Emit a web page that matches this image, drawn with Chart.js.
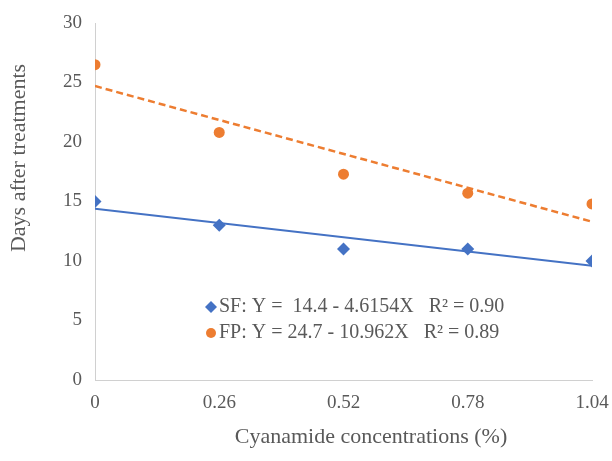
<!DOCTYPE html>
<html>
<head>
<meta charset="utf-8">
<script src="https://cdn.jsdelivr.net/npm/chart.js@4/dist/chart.umd.min.js"></script>
<style>
  html, body { margin: 0; padding: 0; background: #fff; }
  #wrap { width: 612px; height: 461px; }
</style>
</head>
<body>
<div id="wrap"><canvas id="myChart" width="612" height="461"></canvas></div>
<script>
// concentrations (%) on the x axis
let concentrations = [0, 0.26, 0.52, 0.78, 1.04];
// days after treatment
let sfDays = [15, 13, 11, 11, 10];
let fpDays = [26.5, 20.8, 17.3, 15.7, 14.8];
// trend line ends at x = 0 and x = 1.04
let trendX = [0, 1.04];
let sfTrend = [14.4, 9.6];
let fpTrend = [24.7, 13.3];
let yTicks = [0, 5, 10, 15, 20, 25, 30];
let legendLabels = [
  "SF: Y =  14.4 - 4.6154X   R\u00B2 = 0.90",
  "FP: Y = 24.7 - 10.962X   R\u00B2 = 0.89"
];

const blue = '#4472C4';
const orange = '#ED7D31';
const grey = '#595959';
const fontName = "'Liberation Serif', 'Times New Roman', serif";

function toPoints(xs, ys) {
  return xs.map(function (x, i) { return { x: x, y: ys[i] }; });
}

// axis titles and the legend sit off-centre in the original, so draw them here
const extras = {
  id: 'extras',
  afterDraw(chart) {
    const ctx = chart.ctx;
    ctx.save();
    ctx.fillStyle = grey;
    ctx.font = "22px " + fontName;
    ctx.textAlign = 'center';
    ctx.textBaseline = 'middle';
    ctx.fillText("Cyanamide concentrations (%)", 371, 437);

    ctx.translate(19, 158);
    ctx.rotate(-Math.PI / 2);
    ctx.fillText("Days after treatments", 0, 0);
    ctx.restore();

    ctx.save();
    ctx.font = "20px " + fontName;
    ctx.textAlign = 'left';
    ctx.textBaseline = 'middle';
    const rows = [307, 333];
    // diamond
    ctx.fillStyle = blue;
    ctx.beginPath();
    ctx.moveTo(211, rows[0] - 6);
    ctx.lineTo(217, rows[0]);
    ctx.lineTo(211, rows[0] + 6);
    ctx.lineTo(205, rows[0]);
    ctx.closePath();
    ctx.fill();
    // circle
    ctx.fillStyle = orange;
    ctx.beginPath();
    ctx.arc(211, rows[1], 5, 0, Math.PI * 2);
    ctx.fill();
    ctx.fillStyle = grey;
    ctx.fillText(legendLabels[0], 219, rows[0]);
    ctx.fillText(legendLabels[1], 219, rows[1]);
    ctx.restore();
  }
};

const data = {
  datasets: [
    {
      label: 'SF',
      data: toPoints(concentrations, sfDays),
      backgroundColor: blue,
      borderColor: blue,
      pointStyle: 'rectRot',
      pointRadius: 6.5,
      pointBorderWidth: 0,
      showLine: false,
      order: 1
    },
    {
      label: 'FP',
      data: toPoints(concentrations, fpDays),
      backgroundColor: orange,
      borderColor: orange,
      pointStyle: 'circle',
      pointRadius: 5.5,
      pointBorderWidth: 0,
      showLine: false,
      order: 1
    },
    {
      label: 'SF trend',
      data: toPoints(trendX, sfTrend),
      borderColor: blue,
      borderWidth: 2,
      pointRadius: 0,
      showLine: true,
      order: 2
    },
    {
      label: 'FP trend',
      data: toPoints(trendX, fpTrend),
      borderColor: orange,
      borderWidth: 2.5,
      borderDash: [7, 4],
      pointRadius: 0,
      showLine: true,
      order: 2
    }
  ]
};

const config = {
  type: 'scatter',
  data: data,
  options: {
    responsive: false,
    animation: false,
    layout: { padding: { top: 23, right: 20, left: 0, bottom: 0 } },
    plugins: {
      legend: { display: false },
      tooltip: { enabled: false }
    },
    scales: {
      x: {
        type: 'linear',
        min: 0,
        max: 1.04,
        afterBuildTicks: function (scale) {
          scale.ticks = concentrations.map(function (v) { return { value: v }; });
        },
        afterFit: function (scale) {
          scale.height = 81;
          scale.paddingRight = 0;
          scale.paddingLeft = 0;
        },
        grid: { display: false, drawTicks: false },
        border: { display: true, color: '#d0d0d0', width: 1 },
        ticks: {
          padding: 12,
          color: grey,
          font: { family: fontName, size: 19 },
          maxRotation: 0,
          autoSkip: false,
          callback: function (v) { return String(v); }
        }
      },
      y: {
        min: 0,
        max: 30,
        afterBuildTicks: function (scale) {
          scale.ticks = yTicks.map(function (v) { return { value: v }; });
        },
        afterFit: function (scale) {
          scale.width = 95;
          scale.paddingTop = 0;
        },
        grid: { display: false, drawTicks: false },
        border: { display: true, color: '#d0d0d0', width: 1 },
        ticks: {
          padding: 13,
          color: grey,
          font: { family: fontName, size: 19 },
          callback: function (v) { return String(v); }
        }
      }
    }
  },
  plugins: [extras]
};

const myChart = new Chart(document.getElementById('myChart'), config);
</script>
</body>
</html>
